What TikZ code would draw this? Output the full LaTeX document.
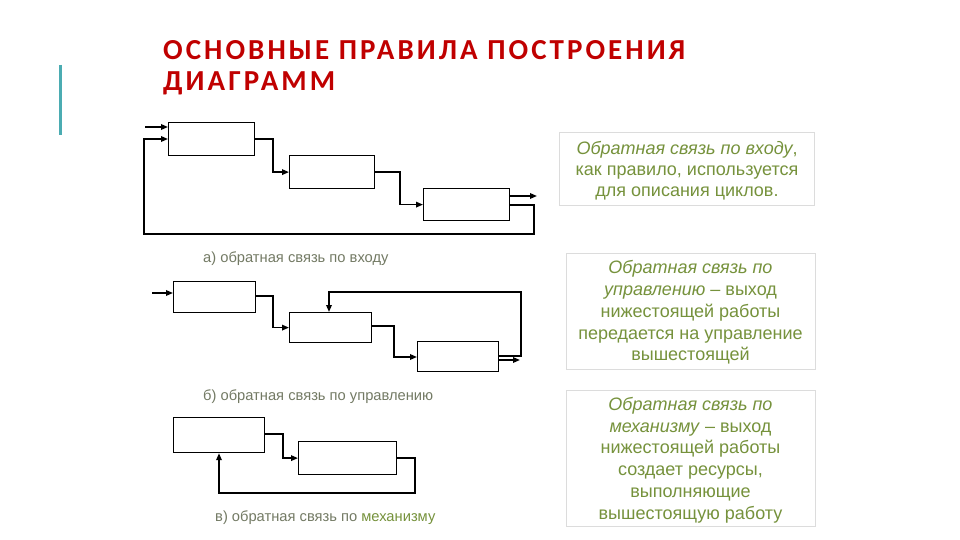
\documentclass[tikz,border=0pt]{standalone}
\usepackage{fontspec}
\setmainfont{Liberation Sans}
\newfontfamily\titlefont[LetterSpace=10.5]{Carlito}
\usetikzlibrary{arrows.meta,calc}
\definecolor{titlered}{RGB}{192,0,0}
\definecolor{olivetxt}{RGB}{118,146,60}
\definecolor{capgray}{RGB}{115,122,100}
\definecolor{accentteal}{RGB}{75,172,178}
\definecolor{frame}{RGB}{220,220,220}
\tikzset{
  blk/.style={draw=black, line width=1.2pt, anchor=north west, inner sep=0pt},
  con/.style={draw=black, line width=1.6pt},
  arr/.style={con, -{Triangle[length=7pt,width=5.5pt]}},
  captext/.style={anchor=base west, text=capgray, font=\fontsize{14.7}{16}\selectfont, inner sep=0pt},
  note/.style={draw=frame, line width=0.8pt, inner sep=0pt},
  notetext/.style={align=center, text=olivetxt, inner sep=0pt},
  ttl/.style={anchor=base west, text=titlered, font=\titlefont\bfseries\fontsize{29}{31}\selectfont, inner sep=0pt}
}
\begin{document}
\begin{tikzpicture}[x=1pt,y=-1pt]
\useasboundingbox[fill=white] (0,0) rectangle (960,540);
% accent bar
\draw[accentteal, line width=3pt] (60,65) coordinate (barT) -- (60,135) coordinate (barB);
% title
\node[ttl] (t1) at (163,60) {ОСНОВНЫЕ ПРАВИЛА ПОСТРОЕНИЯ};
\node[ttl] (t2) at (163,91) {ДИАГРАММ};

% ---- diagram a
\node[blk, minimum width=86pt, minimum height=33pt] (a1) at (168,122) {};
\node[blk, minimum width=85pt, minimum height=33pt] (a2) at (289,155) {};
\node[blk, minimum width=86pt, minimum height=32pt] (a3) at (423,188) {};
\coordinate (ain) at (145,127);
\draw[arr] (ain) -- (ain -| a1.west);
\draw[arr] ([yshift=-17pt]a3.north east) -- ++(24,0) |- (144,234) |- ([yshift=-17pt]a1.north west);
\draw[arr] ([yshift=-17pt]a1.north east) -- ++(18,0) |- (a2.west);
\draw[arr] ([yshift=-17pt]a2.north east) -- ++(25,0) |- (a3.west);
\coordinate (aout) at (537,196);
\draw[arr] (aout -| a3.east) -- (aout);
\node[captext] (capa) at (203,262) {а) обратная связь по входу};

% ---- diagram b
\node[blk, minimum width=82pt, minimum height=31pt] (b1) at (173,281) {};
\node[blk, minimum width=82pt, minimum height=30pt] (b2) at (289,312) {};
\node[blk, minimum width=81pt, minimum height=30pt] (b3) at (417,341) {};
\coordinate (bin) at (152,293);
\draw[arr] (bin) -- (bin -| b1.west);
\draw[arr] ([yshift=-15pt]b1.north east) -- ++(17,0) |- (b2.west);
\draw[arr] ([yshift=-14pt]b2.north east) -- ++(22,0) |- ([yshift=-16pt]b3.north west);
\draw[arr] ([yshift=-15pt]b3.north east) -- ++(22,0) -- ++(0,-64) -| ([xshift=40pt]b2.north west);
\coordinate (bout) at (520,360);
\draw[arr] (bout -| b3.east) -- (bout);
\node[captext] (capb) at (203,400) {б) обратная связь по управлению};

% ---- diagram c
\node[blk, minimum width=91pt, minimum height=35pt] (c1) at (173,417) {};
\node[blk, minimum width=98pt, minimum height=33pt] (c2) at (298,441) {};
\draw[arr] ([yshift=-17pt]c1.north east) -- ++(18,0) |- (c2.west);
\draw[arr] (c2.east) -- ++(18,0) -- ++(0,35) -| ([xshift=46pt]c1.south west);
\node[captext] (capc) at (215,521) {в) обратная связь по \textcolor{olivetxt}{механизму}};

% ---- notes
\node[note, minimum width=255pt, minimum height=73pt] (na) at (687,169) {};
\node[notetext, font=\fontsize{18}{21}\selectfont] (nat) at (687,171)
  {\textit{Обратная связь по входу},\\как правило, используется\\для описания циклов.};
\node[note, minimum width=249pt, minimum height=116pt] (nb) at (690.5,311) {};
\node[notetext, font=\fontsize{18}{21.8}\selectfont] (nbt) at (690.5,312.5)
  {\textit{Обратная связь по}\\\textit{управлению} – выход\\нижестоящей работы\\передается на управление\\вышестоящей};
\node[note, minimum width=249pt, minimum height=136pt] (nc) at (690.5,458) {};
\node[notetext, font=\fontsize{18}{21.8}\selectfont] (nct) at (690.5,460)
  {\textit{Обратная связь по}\\\textit{механизму} – выход\\нижестоящей работы\\создает ресурсы,\\выполняющие\\вышестоящую работу};
\end{tikzpicture}
\end{document}
